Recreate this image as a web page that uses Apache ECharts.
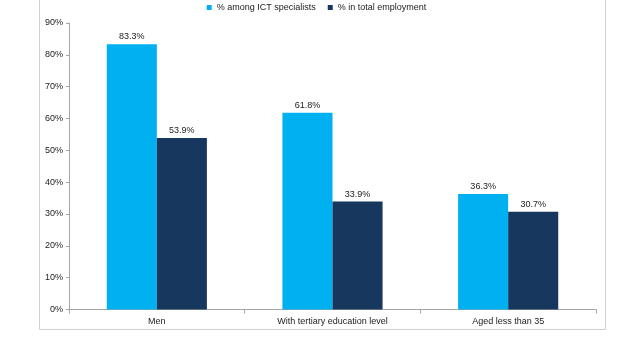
<!DOCTYPE html>
<html>
<head>
<meta charset="utf-8">
<script src="https://cdn.jsdelivr.net/npm/echarts@6/dist/echarts.min.js"></script>
<style>
  html, body { margin: 0; padding: 0; background: #fff; }
  #main { width: 633px; height: 350px; }
</style>
</head>
<body>
<div id="main"></div>
<script>
const categories = ['Men', 'With tertiary education level', 'Aged less than 35']
const ictShare = [83.3, 61.8, 36.3]
const totalShare = [53.9, 33.9, 30.7]
const seriesNames = ['% among ICT specialists', '% in total employment']

const font = 'Liberation Sans, Arial, sans-serif'
const chart = echarts.init(document.getElementById('main'))

const barLabel = {
  show: true, position: 'top', fontSize: 9, color: '#222', distance: 3,
  formatter: p => p.value.toFixed(1) + '%'
}

const option = {
  animation: false,
  textStyle: { fontFamily: font },
  graphic: [{
    type: 'rect',
    shape: { x: 39.5, y: -5, width: 566, height: 334.5 },
    style: { fill: 'none', stroke: '#d0d0d0', lineWidth: 1 },
    silent: true
  }],
  legend: {
    top: -2,
    left: 'center',
    itemWidth: 5,
    itemHeight: 5,
    itemGap: 12,
    icon: 'rect',
    textStyle: { fontSize: 9, color: '#222', fontFamily: font },
    data: seriesNames
  },
  grid: { left: 69, right: 37, top: 23, bottom: 40.5 },
  xAxis: {
    type: 'category',
    data: categories,
    axisLine: { lineStyle: { color: '#a6a6a6' } },
    axisTick: { show: true, length: 4, lineStyle: { color: '#a6a6a6' } },
    axisLabel: { fontSize: 9, color: '#222', margin: 8, fontFamily: font }
  },
  yAxis: {
    type: 'value',
    min: 0,
    max: 90,
    interval: 10,
    splitLine: { show: false },
    axisLine: { show: true, lineStyle: { color: '#a6a6a6' } },
    axisTick: { show: true, length: 3, lineStyle: { color: '#a6a6a6' } },
    axisLabel: { fontSize: 9, color: '#222', margin: 6, formatter: '{value}%', fontFamily: font }
  },
  series: [
    {
      name: seriesNames[0],
      type: 'bar',
      data: ictShare,
      barGap: '0%',
      barCategoryGap: '43%',
      itemStyle: { color: '#00B0F0' },
      label: barLabel
    },
    {
      name: seriesNames[1],
      type: 'bar',
      data: totalShare,
      itemStyle: { color: '#17375E' },
      label: barLabel
    }
  ]
}
chart.setOption(option)
</script>
</body>
</html>
